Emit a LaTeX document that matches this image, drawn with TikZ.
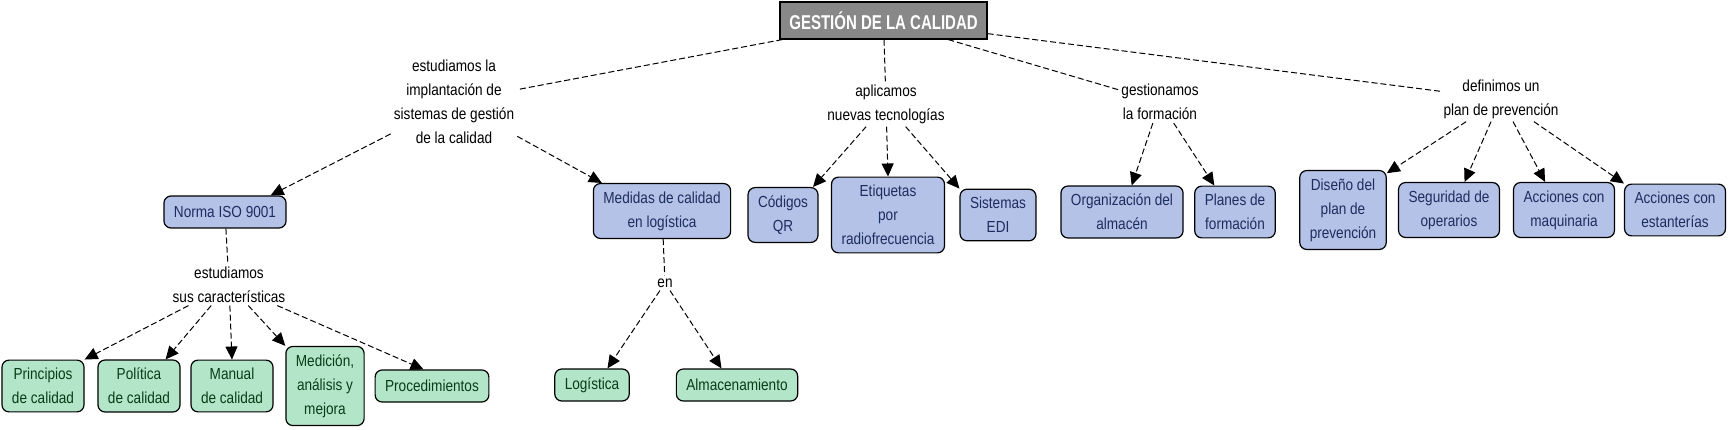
\documentclass[tikz,border=0pt]{standalone}
\usepackage{fontspec}
\setmainfont{Liberation Sans}[FakeStretch=0.85]
\newfontfamily\titlefont{Liberation Sans}[FakeStretch=0.75]
\usetikzlibrary{arrows.meta}
\definecolor{rootgray}{RGB}{136,136,136}
\definecolor{conceptblue}{RGB}{179,194,230}
\definecolor{conceptnavy}{RGB}{30,45,95}
\definecolor{conceptgreen}{RGB}{179,229,200}
\definecolor{conceptdkgreen}{RGB}{10,60,25}
\tikzset{
  phrase/.style={font=\fontsize{16pt}{24pt}\selectfont, align=center, inner sep=3pt},
  concept/.style={draw, line width=1.2pt, rounded corners=7pt, align=center,
    font=\fontsize{16pt}{24pt}\selectfont, inner xsep=10pt, inner ysep=8pt, minimum height=32pt},
  bluebox/.style={concept, fill=conceptblue, text=conceptnavy},
  greenbox/.style={concept, fill=conceptgreen, text=conceptdkgreen},
  rootbox/.style={draw, line width=1.2pt, fill=rootgray, text=white, minimum width=207pt,
    minimum height=37pt, font=\titlefont\fontsize{20pt}{24pt}\selectfont\bfseries},
  lnk/.style={dash pattern=on 6pt off 3pt, line width=1pt},
  arr/.style={lnk, -{Triangle[length=13pt,width=12pt]}},
}
\begin{document}
\begin{tikzpicture}[x=1pt, y=-1pt]
    \useasboundingbox (0,0) rectangle (1728,430);
    \node[rootbox] (A0_0) at (883.5,20.5) {GESTIÓN DE LA CALIDAD};
    \node[phrase] (A1_1) at (454,101.5) {estudiamos la\\implantación de\\sistemas de gestión\\de la calidad};
    \node[phrase] (A1_2) at (886,104) {aplicamos\\nuevas tecnologías};
    \node[phrase] (A1_3) at (1160,102) {gestionamos\\la formación};
    \node[phrase] (A1_4) at (1501,99) {definimos un\\plan de prevención};
    \node[bluebox] (A2_1) at (225,212) {Norma ISO 9001};
    \node[bluebox] (A2_2) at (662,211) {Medidas de calidad\\en logística};
    \node[bluebox] (A2_3) at (783,215) {Códigos\\QR};
    \node[bluebox] (A2_4) at (888,215) {Etiquetas\\por\\radiofrecuencia};
    \node[bluebox] (A2_5) at (998,215) {Sistemas\\EDI};
    \node[bluebox] (A2_6) at (1122,212) {Organización del\\almacén};
    \node[bluebox] (A2_7) at (1235,212) {Planes de\\formación};
    \node[bluebox] (A2_8) at (1343,210) {Diseño del\\plan de\\prevención};
    \node[bluebox] (A2_9) at (1449,210) {Seguridad de\\operarios};
    \node[bluebox] (A2_10) at (1564,210) {Acciones con\\maquinaria};
    \node[bluebox] (A2_11) at (1675,210) {Acciones con\\estanterías};
    \node[phrase] (A3_1) at (229,284.5) {estudiamos\\sus características};
    \node[phrase] (A3_2) at (665,283) {en};
    \node[greenbox] (A4_1) at (43,386) {Principios\\de calidad};
    \node[greenbox] (A4_2) at (139,386) {Política\\de calidad};
    \node[greenbox] (A4_3) at (232,386) {Manual\\de calidad};
    \node[greenbox] (A4_4) at (325,386) {Medición,\\análisis y\\mejora};
    \node[greenbox] (A4_5) at (432,386) {Procedimientos};
    \node[greenbox] (A4_6) at (592,385) {Logística};
    \node[greenbox] (A4_7) at (737,385) {Almacenamiento};
    \path (A0_0) edge [lnk] (A1_1);
    \path (A0_0) edge [lnk] (A1_2);
    \path (A0_0) edge [lnk] (A1_3);
    \path (A0_0) edge [lnk] (A1_4);
    \path (A1_1) edge [arr] (A2_1.20);
    \path (A1_1) edge [arr] (A2_2.155);
    \path (A1_2) edge [arr] (A2_3.43);
    \path (A1_2) edge [arr] (A2_4.north);
    \path (A1_2) edge [arr] (A2_5.north west);
    \path (A1_3) edge [arr] (A2_6.70);
    \path (A1_3) edge [arr] (A2_7.128);
    \path (A1_4) edge [arr] (A2_8.40);
    \path (A1_4) edge [arr] (A2_9.61);
    \path (A1_4) edge [arr] (A2_10.124);
    \path (A1_4) edge [arr] (A2_11.north west);
    \path (A2_1) edge [lnk] (A3_1);
    \path (A2_2) edge [lnk] (A3_2);
    \path (A3_1) edge [arr] (A4_1.north east);
    \path (A3_1) edge [arr] (A4_2.45);
    \path (A3_1) edge [arr] (A4_3.north);
    \path (A3_1) edge [arr] (A4_4.north west);
    \path (A3_1) edge [arr] (A4_5.117);
    \path (A3_2) edge [arr] (A4_6.47);
    \path (A3_2) edge [arr] (A4_7.133);
\end{tikzpicture}
\end{document}
